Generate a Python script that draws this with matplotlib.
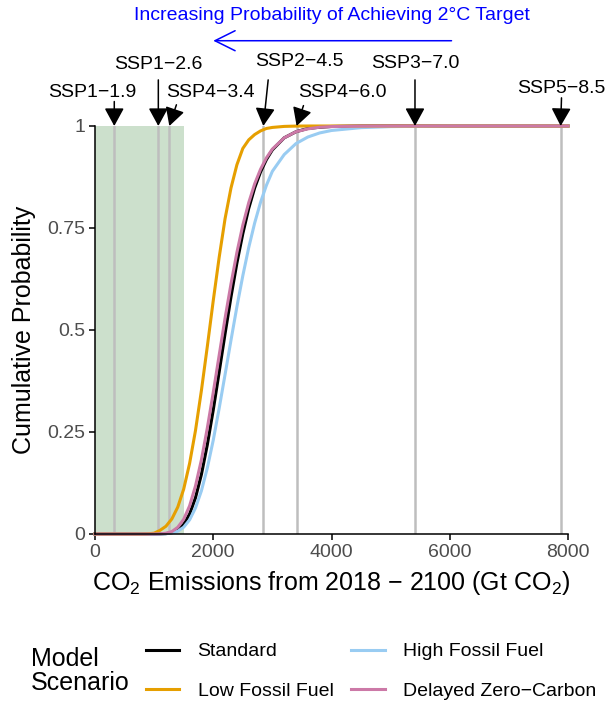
import numpy as np
import matplotlib
matplotlib.use('Agg')
import matplotlib.pyplot as plt

plt.rcParams['font.family'] = ['Liberation Sans', 'DejaVu Sans']
plt.rcParams['mathtext.default'] = 'regular'

# emissions grid (Gt CO2) and cumulative probability
emissions = [0, 800, 900, 1000, 1100, 1200, 1300, 1400, 1500, 1600, 1700, 1800,
             1900, 2000, 2100, 2200, 2300, 2400, 2500, 2600, 2700, 2800, 2900,
             3000, 3200, 3400, 3600, 3800, 4000, 4500, 5000, 6000, 8000]

standard = [0, 0, 0, 0, 0.0002, 0.0009, 0.0033, 0.0096, 0.0235, 0.049,
            0.089, 0.146, 0.219, 0.304, 0.397, 0.491, 0.581, 0.664, 0.736, 0.798,
            0.848, 0.8875, 0.918, 0.9415, 0.971, 0.986, 0.994, 0.997, 0.9988, 0.9999,
            1, 1, 1]

low_fossil = [0, 0, 0.0005, 0.002, 0.009, 0.019, 0.037, 0.066, 0.110, 0.173,
              0.254, 0.352, 0.460, 0.572, 0.678, 0.773, 0.848, 0.905, 0.945, 0.966,
              0.979, 0.988, 0.994, 0.9965, 0.999, 0.9998, 1, 1, 1, 1,
              1, 1, 1]

high_fossil = [0, 0, 0, 0, 0, 0.0007, 0.0024, 0.0069, 0.0167, 0.0347,
               0.064, 0.106, 0.162, 0.230, 0.308, 0.391, 0.475, 0.557, 0.633, 0.702,
               0.762, 0.813, 0.855, 0.889, 0.930, 0.957, 0.973, 0.983, 0.989, 0.996,
               0.9985, 1, 1]

delayed = [0, 0, 0, 0.0001, 0.0005, 0.002, 0.006, 0.0165, 0.036, 0.069,
           0.118, 0.182, 0.260, 0.347, 0.438, 0.529, 0.613, 0.690, 0.757, 0.812,
           0.858, 0.894, 0.922, 0.9435, 0.971, 0.986, 0.993, 0.997, 0.9986, 0.9998,
           1, 1, 1]

# SSP cumulative emissions 2018-2100
ssp_names = ['SSP1\u22121.9', 'SSP1\u22122.6', 'SSP4\u22123.4', 'SSP2\u22124.5',
             'SSP4\u22126.0', 'SSP3\u22127.0', 'SSP5\u22128.5']
ssp_values = [326, 1071, 1257, 2847, 3410, 5412, 7876]

budget_2c = 1500

# where the labels / arrow tails sit (layout only)
label_x = [-50, 1071, 1953, 3460, 4185, 5424, 7881]
label_y = [1.082, 1.150, 1.082, 1.158, 1.082, 1.153, 1.093]
tail_x = [326, 1071, 1377, 2929, 3526, 5412, 7890]
tail_y = [1.060, 1.113, 1.052, 1.113, 1.050, 1.113, 1.069]

fig = plt.figure(figsize=(6.07, 7.05), dpi=100)
ax = fig.add_axes([95 / 607, 171 / 705, 473 / 607, 408 / 705])

ax.axvspan(0, budget_2c, color='darkgreen', alpha=0.2, lw=0, zorder=0)
for v in ssp_values:
    ax.axvline(v, color='#BEBEBE', lw=1.8, zorder=1)

lw = 2.2
l_std, = ax.plot(emissions, standard, color='black', lw=lw, clip_on=False, label='Standard')
l_high, = ax.plot(emissions, high_fossil, color='#99CCF2', lw=lw, clip_on=False, label='High Fossil Fuel')
l_low, = ax.plot(emissions, low_fossil, color='#E69F00', lw=lw, clip_on=False, label='Low Fossil Fuel')
l_del, = ax.plot(emissions, delayed, color='#CC79A7', lw=lw, clip_on=False, label='Delayed Zero\u2212Carbon')

ax.set_xlim(0, 8000)
ax.set_ylim(0, 1)
ax.set_xticks([0, 2000, 4000, 6000, 8000])
ax.set_yticks([0, 0.25, 0.5, 0.75, 1])
ax.set_yticklabels(['0', '0.25', '0.5', '0.75', '1'])
ax.tick_params(direction='out', length=4, width=1.1, color='black',
               labelcolor='#4D4D4D', labelsize=14, pad=3)
for s in ['top', 'right']:
    ax.spines[s].set_visible(False)
for s in ['left', 'bottom']:
    ax.spines[s].set_linewidth(1.1)

ax.set_xlabel('CO$_2$ Emissions from 2018 \u2212 2100 (Gt CO$_2$)', fontsize=18, labelpad=6)
ax.set_ylabel('Cumulative Probability', fontsize=18, labelpad=8)

# SSP arrows and labels
for i in range(len(ssp_names)):
    ax.annotate('', xy=(ssp_values[i], 1.0), xytext=(tail_x[i], tail_y[i]),
                arrowprops=dict(arrowstyle='-|>,head_length=1.1,head_width=0.6',
                                color='black', lw=1.1, shrinkA=0, shrinkB=0,
                                mutation_scale=10),
                annotation_clip=False)
    ax.text(label_x[i], label_y[i], ssp_names[i], fontsize=14, ha='center', va='center',
            clip_on=False)

# probability direction arrow
ax.annotate('', xy=(2000, 1.209), xytext=(6030, 1.209),
            arrowprops=dict(arrowstyle='->,head_length=1.45,head_width=0.72',
                            color='blue', lw=1.1, shrinkA=0, shrinkB=0, mutation_scale=10),
            annotation_clip=False)
ax.text(4000, 1.27, 'Increasing Probability of Achieving 2\u00b0C Target', color='blue',
        fontsize=14, ha='center', va='center', clip_on=False)

# legend
fig.text(31 / 607, 1 - 671.5 / 705, 'Model\nScenario', fontsize=18, ha='left', va='center',
         linespacing=1.0)
fig.legend(handles=[l_std, l_low, l_high, l_del], ncol=2, loc='center left',
           bbox_to_anchor=(146 / 607, 1 - 671.5 / 705), frameon=False, fontsize=14,
           handlelength=1.7, handletextpad=0.95, columnspacing=0.93, labelspacing=1.15,
           borderpad=0, borderaxespad=0)

fig.savefig('out.png', dpi=100)
